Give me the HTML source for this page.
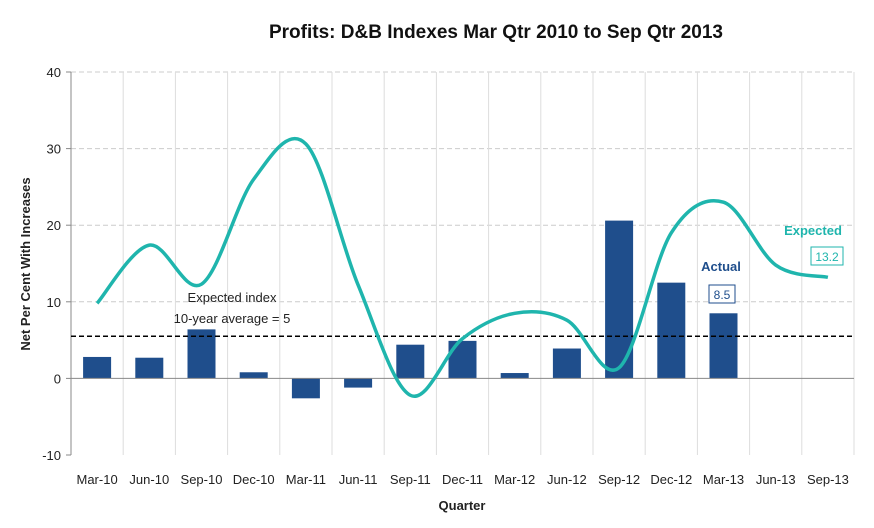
<!DOCTYPE html>
<html><head><meta charset="utf-8"><style>
body{margin:0;background:#fff;font-family:"Liberation Sans",sans-serif}
svg text{font-family:"Liberation Sans",sans-serif}
</style></head><body>
<svg id="chart" width="874" height="523" viewBox="0 0 874 523" xmlns="http://www.w3.org/2000/svg">
<text x="496" y="38" text-anchor="middle" font-size="19" font-weight="bold" fill="#111">Profits: D&amp;B Indexes Mar Qtr 2010 to Sep Qtr 2013</text>
<text transform="translate(30,264) rotate(-90)" text-anchor="middle" font-size="13" font-weight="bold" fill="#222">Net Per Cent With Increases</text>
<text x="462" y="510" text-anchor="middle" font-size="13" font-weight="bold" fill="#222">Quarter</text>
<g id="grid"></g><g id="bars"></g><g id="axes"></g>
<text x="232" y="302" text-anchor="middle" font-size="13" fill="#222">Expected index</text>
<text x="232" y="323" text-anchor="middle" font-size="13" fill="#222">10-year average = 5</text>
<text x="721" y="271" text-anchor="middle" font-size="13" font-weight="bold" fill="#1f4e8c">Actual</text>
<rect x="709" y="285" width="26" height="18" fill="#fff" stroke="#1f4e8c"/>
<text x="722" y="299" text-anchor="middle" font-size="12" fill="#1f4e8c">8.5</text>
<text x="813" y="235" text-anchor="middle" font-size="13" font-weight="bold" fill="#1fb5ad">Expected</text>
<rect x="811" y="247" width="32" height="18" fill="#fff" stroke="#1fb5ad"/>
<text x="827" y="261" text-anchor="middle" font-size="12" fill="#1fb5ad">13.2</text>
</svg>
<script>
const categories=["Mar-10","Jun-10","Sep-10","Dec-10","Mar-11","Jun-11","Sep-11","Dec-11","Mar-12","Jun-12","Sep-12","Dec-12","Mar-13","Jun-13","Sep-13"];
const actual=[2.8,2.7,6.4,0.8,-2.6,-1.2,4.4,4.9,0.7,3.9,20.6,12.5,8.5,null,null];
const expected=[9.8,17.4,12.3,26,30.6,12.2,-2.2,5.2,8.5,7.6,1.4,19,23,14.8,13.2];
const yTicks=[-10,0,10,20,30,40];
const average=5.5;
const NS="http://www.w3.org/2000/svg";
const L=71,R=854,T=72,B=455,yMin=-10,yMax=40;
const bw=(R-L)/categories.length;
const x=i=>L+bw*(i+0.5);
const y=v=>B-(v-yMin)/(yMax-yMin)*(B-T);
function mk(t,a,p){const e=document.createElementNS(NS,t);for(const k in a)e.setAttribute(k,a[k]);p.appendChild(e);return e;}
const g=document.getElementById('grid'),b=document.getElementById('bars'),ax=document.getElementById('axes'),svg=document.getElementById('chart');
yTicks.forEach(t=>{
 if(t!==0&&t!==yMin){const l=mk('line',{x1:L,x2:R,y1:y(t),y2:y(t),stroke:'#ccc','stroke-dasharray':'5,3'},g);
 
 }
 const tx=mk('text',{x:L-10,y:y(t)+5,'text-anchor':'end','font-size':13,fill:'#222'},ax);tx.textContent=t;
 
 
 const tk=mk('line',{x1:L-5,x2:L,y1:y(t),y2:y(t),stroke:'#888'},ax);
 
 
});
for(let i=1;i<=categories.length;i++){const l=mk('line',{x1:L+bw*i,x2:L+bw*i,y1:T,y2:B,stroke:'#ddd'},g);
 
 }
categories.forEach((c,i)=>{
 const tx=mk('text',{x:x(i),y:484,'text-anchor':'middle','font-size':13,fill:'#222'},ax);tx.textContent=c;
 
 
 const v=actual[i];if(v==null)return;
 const r=mk('rect',{x:x(i)-14,width:28,y:Math.min(y(v),y(0)),height:Math.abs(y(v)-y(0)),fill:'#1f4e8c'},b);
 
 
});
const ya=mk('line',{x1:L,x2:L,y1:T,y2:B,stroke:'#888'},ax);


const xa=mk('line',{x1:L,x2:R,y1:y(0),y2:y(0),stroke:'#888'},ax);


const av=mk('line',{x1:L,x2:R,y1:y(average),y2:y(average),stroke:'#000','stroke-width':1.5,'stroke-dasharray':'5,3'},svg);


const P=expected.map((v,i)=>[x(i),y(v)]);
let d='M'+P[0][0]+','+P[0][1];
for(let i=0;i<P.length-1;i++){const p0=P[Math.max(0,i-1)],p1=P[i],p2=P[i+1],p3=P[Math.min(P.length-1,i+2)];
 d+=' C'+(p1[0]+(p2[0]-p0[0])/6)+','+(p1[1]+(p2[1]-p0[1])/6)+' '+(p2[0]-(p3[0]-p1[0])/6)+','+(p2[1]-(p3[1]-p1[1])/6)+' '+p2[0]+','+p2[1];}
const ln=mk('path',{d:d,fill:'none',stroke:'#1fb5ad','stroke-width':3.5},svg);


</script>
</body></html>
